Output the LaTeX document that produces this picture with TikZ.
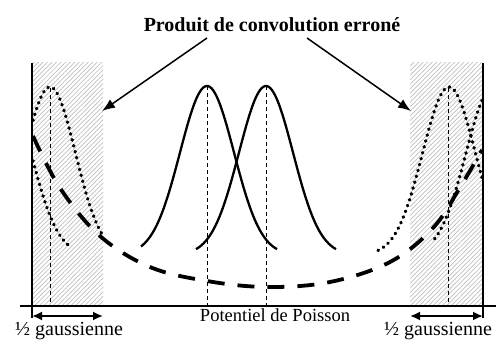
\documentclass[tikz,border=0pt]{standalone}
\usepackage{fontspec}
\setmainfont{Liberation Serif}
\usetikzlibrary{arrows.meta,patterns.meta}
\begin{document}
\begin{tikzpicture}[x=1pt,y=-1pt,
  hatchbox/.style={pattern={Lines[angle=45,distance=3.2pt,line width=0.7pt]},pattern color=black!25},
  wall/.style={line width=1.4pt},
  axisline/.style={line width=1.3pt},
  guide/.style={line width=0.9pt,dash pattern=on 4pt off 3pt},
  solidgauss/.style={line width=2.3pt},
  dotgauss/.style={line width=3.4pt,line cap=round,dash pattern=on 0.5pt off 5.6pt},
  thickdash/.style={line width=3.8pt,dash pattern=on 17pt off 13pt},
  callout/.style={line width=1.5pt,-{Latex[length=13pt,width=10pt]}},
  span/.style={line width=1.8pt,{Latex[length=10pt,width=9pt]}-{Latex[length=10pt,width=9pt]}},
  lbl/.style={font=\fontsize{18.5}{20}\selectfont,inner sep=0pt},
  hlbl/.style={font=\fontsize{20}{22}\selectfont,inner sep=0pt},
  ttl/.style={font=\fontsize{20}{22}\selectfont\bfseries,inner sep=0pt},
]
\useasboundingbox (0,0) rectangle (496,345);
\fill[white] (0,0) rectangle (496,345);
% hatched half-gaussian zones
\path[hatchbox] (32,63) rectangle (103,306);
\path[hatchbox] (410,63) rectangle (483,306);
% guide lines
\draw[guide] (50,88) -- (50,306);
\draw[guide] (448,88) -- (448,306);
\draw[guide] (207,86) -- (207,306);
\draw[guide] (266,86) -- (266,306);
% solid gaussians
\draw[solidgauss] plot[domain=141:277,samples=80] (\x,{255-169*exp(-(\x-207)^2/1458)});
\draw[solidgauss] plot[domain=196:336,samples=80] (\x,{255-169*exp(-(\x-266)^2/1458)});
% dotted gaussians (left)
\draw[dotgauss] plot[domain=33:102,samples=80] (\x,{255-168*exp(-(\x-50)^2/1300)});
\draw[dotgauss] plot[domain=33:72,samples=50] (\x,{255-168*exp(-(\x-4)^2/1458)});
% dotted gaussians (right)
\draw[dotgauss] plot[domain=378:482,samples=90] (\x,{255-168*exp(-(\x-449)^2/1400)});
\draw[dotgauss] plot[domain=482:432,samples=50] (\x,{255-168*exp(-(\x-493)^2/1458)});
% thick dashed curve
\draw[thickdash] plot[smooth,tension=0.6] coordinates {(33,136) (60,188) (100,236) (150,267) (207,281) (267,287) (330,282) (390,262) (433,228) (462,184) (482,150)};
% axis and walls
\draw[axisline] (20,306) -- (496,306);
\draw[wall] (32,63) -- (32,318);
\draw[wall] (483,63) -- (483,318);
% spans
\coordinate (sl1) at (32,316);
\coordinate (sl2) at (103,316);
\coordinate (sr1) at (410,316);
\coordinate (sr2) at (483,316);
\draw[span] (sl1) -- (sl2);
\draw[span] (sr1) -- (sr2);
% labels
\node[ttl] (title) at (272,25) {Produit de convolution erroné};
\node[lbl] (pois) at (275,315) {Potentiel de Poisson};
\node[hlbl] (hgl) at (69,331) {½ gaussienne};
\node[hlbl] (hgr) at (438,331) {½ gaussienne};
% callout arrows
\coordinate (ta) at (207,38);
\coordinate (tb) at (307,38);
\coordinate (ha) at (102,111);
\coordinate (hb) at (411,111);
\draw[callout] (ta) -- (ha);
\draw[callout] (tb) -- (hb);
\end{tikzpicture}
\end{document}
